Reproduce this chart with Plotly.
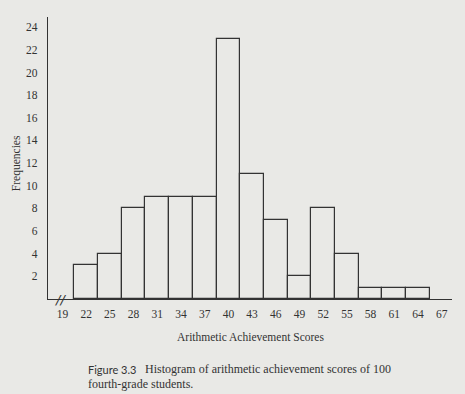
import plotly.graph_objects as go

# Data
score_midpoints = [22, 25, 28, 31, 34, 37, 40, 43, 46, 49, 52, 55, 58, 61, 64]
frequencies = [3, 4, 8, 9, 9, 9, 23, 11, 7, 2, 8, 4, 1, 1, 1]
x_tick_values = [19, 22, 25, 28, 31, 34, 37, 40, 43, 46, 49, 52, 55, 58, 61, 64, 67]
y_tick_values = [2, 4, 6, 8, 10, 12, 14, 16, 18, 20, 22, 24]
bin_width = 3

BG = "#e9e9e6"
INK = "#333333"
SERIF = "Liberation Serif, Times New Roman, serif"

fig = go.Figure()
fig.add_trace(go.Bar(
    x=score_midpoints,
    y=frequencies,
    width=[bin_width] * len(score_midpoints),
    marker=dict(color=BG, line=dict(color=INK, width=1.2)),
    hoverinfo="x+y",
))

fig.update_layout(
    width=465, height=394,
    margin=dict(l=48, r=13, t=17, b=95),
    paper_bgcolor=BG, plot_bgcolor=BG,
    showlegend=False,
    bargap=0,
    font=dict(family=SERIF, size=11, color=INK),
    xaxis=dict(
        range=[17.17, 68.3],
        tickmode="array", tickvals=x_tick_values,
        ticktext=[str(v) for v in x_tick_values],
        showgrid=False, zeroline=False,
        showline=True, linecolor=INK, linewidth=1.2,
        ticks="", ticklabelstandoff=4,
        tickfont=dict(family=SERIF, size=11.5, color=INK),
    ),
    yaxis=dict(
        range=[0, 24.9],
        tickmode="array", tickvals=y_tick_values,
        ticktext=[str(v) for v in y_tick_values],
        showgrid=False, zeroline=False,
        showline=True, linecolor=INK, linewidth=1.2,
        ticks="", ticklabelstandoff=7,
        tickfont=dict(family=SERIF, size=11.5, color=INK),
    ),
)

# axis break mark
fig.add_annotation(x=18.7, y=0, xref="x", yref="y", text="<i>//</i>", showarrow=False,
                   font=dict(family="DejaVu Sans", size=13, color=INK),
                   xanchor="center", yanchor="middle")

fig.add_annotation(x=-0.079, y=0.482, xref="paper", yref="paper", text="Frequencies",
                   textangle=-90, showarrow=False,
                   font=dict(family=SERIF, size=11.5, color=INK),
                   xanchor="center", yanchor="middle")

fig.add_annotation(x=0.5, y=-0.1348, xref="paper", yref="paper",
                   text="Arithmetic Achievement Scores", showarrow=False,
                   font=dict(family=SERIF, size=11.5, color=INK),
                   xanchor="center", yanchor="middle")

fig.add_annotation(x=(86 - 48) / 404, y=-(369 - 299) / 282, xref="paper", yref="paper",
                   text="Figure 3.3", showarrow=False,
                   font=dict(family="Lato", size=11, color=INK),
                   xanchor="left", yanchor="middle")
fig.add_annotation(x=(142.7 - 48) / 404, y=-(369 - 299) / 282, xref="paper", yref="paper",
                   text="Histogram of arithmetic achievement scores of 100", showarrow=False,
                   font=dict(family=SERIF, size=12, color=INK),
                   xanchor="left", yanchor="middle")
fig.add_annotation(x=(86 - 48) / 404, y=-(383.5 - 299) / 282, xref="paper", yref="paper",
                   text="fourth-grade students.", showarrow=False,
                   font=dict(family=SERIF, size=12, color=INK),
                   xanchor="left", yanchor="middle")

fig.write_html(
    "out.html",
    config={"displayModeBar": False},
    post_script="document.body.style.margin='0';document.body.style.background='%s';" % BG,
)
